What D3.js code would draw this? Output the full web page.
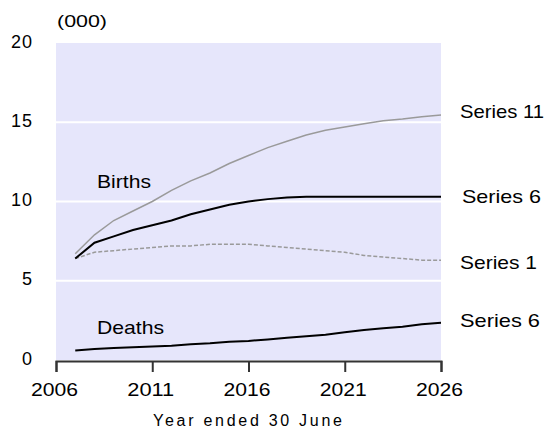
<!DOCTYPE html>
<html>
<head>
<meta charset="utf-8">
<script src="https://cdn.jsdelivr.net/npm/d3@7"></script>
<style>
  html, body { margin: 0; padding: 0; background: #ffffff; }
  svg { display: block; }
  text { font-family: "Liberation Sans", Arial, sans-serif; fill: #000; }
</style>
</head>
<body>
<svg id="chart" width="549" height="430"></svg>
<script>
// ---- Data ----
const years = [2007,2008,2009,2010,2011,2012,2013,2014,2015,2016,2017,2018,2019,2020,2021,2022,2023,2024,2025,2026];
const birthsSeries11 = [6.7,7.9,8.8,9.4,10.0,10.7,11.3,11.8,12.4,12.9,13.4,13.8,14.2,14.5,14.7,14.9,15.1,15.2,15.35,15.45];
const birthsSeries6  = [6.4,7.4,7.8,8.2,8.5,8.8,9.2,9.5,9.8,10.0,10.15,10.25,10.3,10.3,10.3,10.3,10.3,10.3,10.3,10.3];
const birthsSeries1  = [6.4,6.8,6.9,7.0,7.1,7.2,7.2,7.3,7.3,7.3,7.2,7.1,7.0,6.9,6.8,6.6,6.5,6.4,6.3,6.3];
const deathsSeries6  = [0.6,0.7,0.75,0.8,0.85,0.9,1.0,1.05,1.15,1.2,1.3,1.4,1.5,1.6,1.75,1.9,2.0,2.1,2.25,2.35];
const xTicks = [2006,2011,2016,2021,2026];
const yTicks = [0,5,10,15,20];

(function () {
const svg = d3.select("#chart");
const pL = 56, pR = 441, pT = 43, pB = 360;

const x = d3.scaleLinear().domain([2006, 2026]).range([pL, pR]);
const y = d3.scaleLinear().domain([0, 20]).range([pB, pT]);

// plot background
svg.append("rect")
  .attr("x", pL).attr("y", pT)
  .attr("width", pR - pL).attr("height", pB - pT)
  .attr("fill", "#e6e6fb");

// gridlines
svg.append("g").selectAll("line")
  .data(yTicks.filter(d => d > 0 && d < 20))
  .join("line")
  .attr("x1", pL).attr("x2", pR)
  .attr("y1", d => y(d)).attr("y2", d => y(d))
  .attr("stroke", "#ffffff").attr("stroke-width", 2);

// y labels
svg.append("g").selectAll("text")
  .data(yTicks)
  .join("text")
  .attr("x", 33)
  .attr("y", d => y(d) - 1.5)
  .attr("text-anchor", "end")
  .attr("dominant-baseline", "central")
  .attr("font-size", 18)
  .attr("letter-spacing", 1)
  .text(d => d);

svg.append("text")
  .attr("x", 57).attr("y", 27)
  .attr("font-size", 17)
  .attr("textLength", 50).attr("lengthAdjust", "spacingAndGlyphs")
  .text("(000)");

// x axis
const xAxis = d3.axisBottom(x).tickValues(xTicks).tickSize(11).tickFormat("");
const gx = svg.append("g").attr("transform", `translate(0,${pB + 1})`).call(xAxis);
gx.select(".domain").attr("stroke", "#333").attr("stroke-width", 2);
gx.selectAll(".tick line").attr("stroke", "#333").attr("stroke-width", 2);

svg.append("g").selectAll("text")
  .data(xTicks)
  .join("text")
  .attr("x", d => x(d) - 1.5)
  .attr("y", 396)
  .attr("text-anchor", "middle")
  .attr("font-size", 18)
  .attr("textLength", 47).attr("lengthAdjust", "spacingAndGlyphs")
  .text(d => d);

svg.append("text")
  .attr("x", 153).attr("y", 426)
  .attr("font-size", 16)
  .attr("textLength", 189).attr("lengthAdjust", "spacing")
  .text("Year ended 30 June");

// lines
const line = d3.line().x((d, i) => x(years[i])).y(d => y(d));

svg.append("path").datum(birthsSeries1)
  .attr("d", line).attr("fill", "none")
  .attr("stroke", "#9a9a9a").attr("stroke-width", 1.5)
  .attr("stroke-dasharray", "4,2");

svg.append("path").datum(birthsSeries11)
  .attr("d", line).attr("fill", "none")
  .attr("stroke", "#9a9a9a").attr("stroke-width", 1.5);

svg.append("path").datum(birthsSeries6)
  .attr("d", line).attr("fill", "none")
  .attr("stroke", "#000").attr("stroke-width", 2);

svg.append("path").datum(deathsSeries6)
  .attr("d", line).attr("fill", "none")
  .attr("stroke", "#000").attr("stroke-width", 2);

// labels
const labels = [
  {t: "Births", x: 97, y: 188, w: 54},
  {t: "Deaths", x: 97, y: 334, w: 67},
  {t: "Series 11", x: 460, y: 118, w: 84},
  {t: "Series 6", x: 462, y: 203, w: 79},
  {t: "Series 1", x: 460, y: 269, w: 77},
  {t: "Series 6", x: 460, y: 327, w: 80}
];
svg.append("g").selectAll("text")
  .data(labels)
  .join("text")
  .attr("x", d => d.x).attr("y", d => d.y)
  .attr("font-size", 19)
  .attr("textLength", d => d.w).attr("lengthAdjust", "spacingAndGlyphs")
  .text(d => d.t);
})();
</script>
</body>
</html>
